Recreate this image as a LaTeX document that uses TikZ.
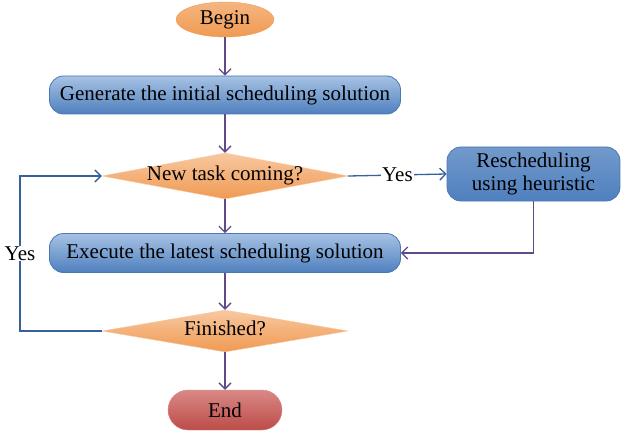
\documentclass[tikz,border=0pt]{standalone}
\usepackage{fontspec}
\setmainfont{Liberation Serif}
\usepackage{tikz}
\usetikzlibrary{shapes.geometric,arrows.meta}

\definecolor{flowpurple}{HTML}{5E4A87}
\definecolor{flowblue}{HTML}{35629A}
\definecolor{boxtop}{HTML}{A7C2E4}
\definecolor{boxbot}{HTML}{4F80BE}
\definecolor{boxedge}{HTML}{4A78B4}
\definecolor{orangetop}{HTML}{F8C8A0}
\definecolor{orangebot}{HTML}{F09A52}
\definecolor{redtop}{HTML}{D98986}
\definecolor{redbot}{HTML}{BC4B48}

\tikzset{
  startstop/.style={ellipse,inner sep=0pt,top color=orangetop!60!orangebot,bottom color=orangebot,draw=orangebot},
  process/.style={rectangle,rounded corners=14pt,inner sep=0pt,top color=boxtop,bottom color=boxbot,draw=boxedge,line width=0.8pt},
  decision/.style={diamond,shape aspect=5.35,inner sep=0pt,text height=10pt,text depth=2pt,top color=orangetop,bottom color=orangebot,draw=orangetop},
  flow/.style={draw=flowpurple,line width=1.3pt,-{Straight Barb[length=6pt,width=12pt]}},
  yesflow/.style={flow,draw=flowblue},
  yeslabel/.style={fill=white,inner sep=1pt}
}

\begin{document}
\begin{tikzpicture}[x=1pt,y=-1pt,font=\fontsize{21}{23}\selectfont]
\useasboundingbox (0,0) rectangle (621,433);
% shapes
\node[startstop,minimum width=98pt,minimum height=35pt] (begin) at (225,19.5) {Begin};
\node[process,minimum width=351pt,minimum height=38pt] (generate) at (225,95) {Generate the initial scheduling solution};
\node[decision,minimum width=246pt,minimum height=46pt] (newtask) at (225,176) {New task coming?};
\node[process,align=center,top color=boxbot!80!white,bottom color=boxbot,minimum width=173pt,minimum height=54pt] (resched) at (533.5,174) {Rescheduling\\using heuristic};
\node[process,minimum width=351pt,minimum height=39pt] (execute) at (225,253) {Execute the latest scheduling solution};
\node[decision,minimum width=246pt,minimum height=42pt] (finished) at (225,331) {Finished?};
\node[rectangle,rounded corners=20pt,inner sep=0pt,top color=redtop,bottom color=redbot,draw=redtop,minimum width=114pt,minimum height=40pt] (end) at (225,410) {End};
\coordinate (looptop) at (20,176);
% connectors
\draw[flow] (begin) -- (generate);
\draw[flow] (generate) -- (newtask);
\draw[yesflow] (newtask.east) -- node[yeslabel] (yesright) {Yes} (resched.west);
\draw[flow] (newtask) -- (execute);
\draw[flow] (resched.south) |- (execute.east);
\draw[flow] (execute) -- (finished);
\draw[yesflow] (finished.west) -| node[yeslabel,pos=0.75] (yesleft) {Yes} (looptop) -- (newtask.west);
\draw[flow] (finished) -- (end);
\end{tikzpicture}
\end{document}
